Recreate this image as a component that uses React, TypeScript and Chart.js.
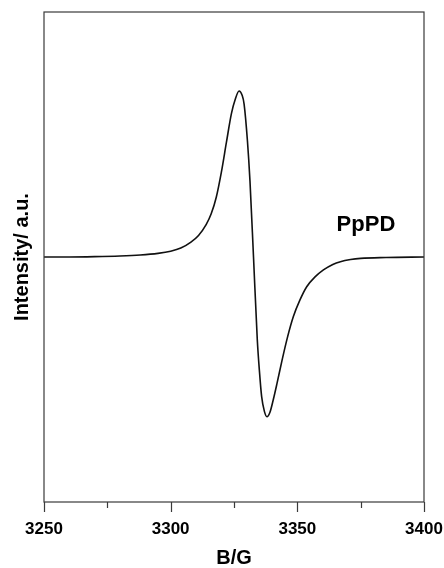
import React, { useEffect, useRef } from "react";
import { Chart, registerables } from "chart.js";

Chart.register(...registerables);

// Magnetic field (G)
const fieldValues: number[] = [
  3250, 3260, 3270, 3280, 3288, 3295, 3300, 3304, 3308, 3311, 3314, 3316, 3318,
  3320, 3322, 3324, 3325.5, 3327, 3328.2, 3329, 3330.3, 3331.3, 3332.7, 3334.2,
  3335, 3335.9, 3337, 3338, 3339.2, 3340.5, 3342, 3344, 3346, 3348.4, 3351,
  3353.7, 3357, 3360.3, 3364, 3367, 3371, 3375, 3385, 3400,
];
// EPR signal intensity (a.u.)
const intensityValues: number[] = [
  0.0, 0.0, 0.002, 0.006, 0.012, 0.022, 0.035, 0.054, 0.09, 0.13, 0.195, 0.26,
  0.36, 0.51, 0.69, 0.865, 0.95, 1.0, 0.975, 0.92, 0.7, 0.46, 0.0, -0.5, -0.68,
  -0.84, -0.93, -0.962, -0.935, -0.86, -0.76, -0.62, -0.49, -0.36, -0.26,
  -0.179, -0.12, -0.078, -0.045, -0.028, -0.015, -0.008, -0.003, 0.0,
];
const majorTicks: number[] = [3250, 3300, 3350, 3400];
const minorTicks: number[] = [3275, 3325, 3375];
const xTitle = "B/G";
const yTitle = "Intensity/ a.u.";
const sampleLabel = "PpPD";
const sampleLabelAt = { x: 3365.5, y: 0.158 };

const FONT = "'Liberation Sans', Arial, Helvetica, sans-serif";
const INK = "#111111";
const FRAME = "#3a3a3a";

const framePlugin = {
  id: "framePlugin",
  afterDraw(chart: any) {
    const { ctx, chartArea, scales } = chart;
    const xs = scales.x;
    const ys = scales.y;
    ctx.save();
    ctx.strokeStyle = FRAME;
    ctx.lineWidth = 1.2;
    ctx.strokeRect(
      chartArea.left,
      chartArea.top,
      chartArea.right - chartArea.left,
      chartArea.bottom - chartArea.top
    );
    ctx.beginPath();
    for (const v of majorTicks) {
      const px = Math.round(xs.getPixelForValue(v)) + 0.5;
      ctx.moveTo(px, chartArea.bottom);
      ctx.lineTo(px, chartArea.bottom + 10);
    }
    for (const v of minorTicks) {
      const px = Math.round(xs.getPixelForValue(v)) + 0.5;
      ctx.moveTo(px, chartArea.bottom);
      ctx.lineTo(px, chartArea.bottom + 6);
    }
    ctx.stroke();
    ctx.fillStyle = "#000";
    ctx.font = `bold 22px ${FONT}`;
    ctx.textAlign = "left";
    ctx.textBaseline = "alphabetic";
    ctx.fillText(
      sampleLabel,
      xs.getPixelForValue(sampleLabelAt.x),
      ys.getPixelForValue(sampleLabelAt.y)
    );
    ctx.restore();
  },
};

export default function App() {
  const canvasRef = useRef<HTMLCanvasElement | null>(null);

  useEffect(() => {
    if (!canvasRef.current) return;
    const points = fieldValues.map((x, i) => ({ x, y: intensityValues[i] }));
    const chart = new Chart(canvasRef.current, {
      type: "line",
      data: {
        datasets: [
          {
            data: points,
            borderColor: INK,
            borderWidth: 1.6,
            pointRadius: 0,
            fill: false,
            cubicInterpolationMode: "monotone",
          },
        ],
      },
      options: {
        animation: false,
        responsive: true,
        maintainAspectRatio: false,
        layout: { padding: { top: 12, right: 20, left: 0, bottom: 0 } },
        plugins: {
          legend: { display: false },
          tooltip: { enabled: false },
        },
        scales: {
          x: {
            type: "linear",
            min: 3250,
            max: 3400,
            afterBuildTicks: (scale: any) => {
              scale.ticks = majorTicks.map((v) => ({ value: v }));
            },
            afterFit: (scale: any) => {
              scale.height = 66;
              scale.paddingLeft = 0;
              scale.paddingRight = 0;
            },
            grid: { display: false, drawTicks: false },
            border: { display: false },
            ticks: {
              color: "#000",
              font: { family: FONT, size: 17, weight: "bold" },
              padding: 17,
              maxRotation: 0,
              autoSkip: false,
              callback: (v: any) => String(v),
            },
            title: {
              display: true,
              text: xTitle,
              color: "#000",
              font: { family: FONT, size: 20, weight: "bold", lineHeight: 1.0 },
              padding: { top: 0, bottom: 0 },
            },
          },
          y: {
            type: "linear",
            min: -1.476,
            max: 1.476,
            afterFit: (scale: any) => {
              scale.width = 44;
            },
            grid: { display: false, drawTicks: false },
            border: { display: false },
            ticks: { display: false },
            title: {
              display: true,
              text: yTitle,
              color: "#000",
              font: { family: FONT, size: 20, weight: "bold", lineHeight: 1.2 },
              padding: { top: 10, bottom: 10 },
            },
          },
        },
      },
      plugins: [framePlugin],
    });
    return () => chart.destroy();
  }, []);

  return (
    <div
      style={{
        position: "fixed",
        left: 0,
        top: 0,
        width: 444,
        height: 568,
        background: "#fff",
      }}
    >
      <canvas ref={canvasRef} />
    </div>
  );
}
